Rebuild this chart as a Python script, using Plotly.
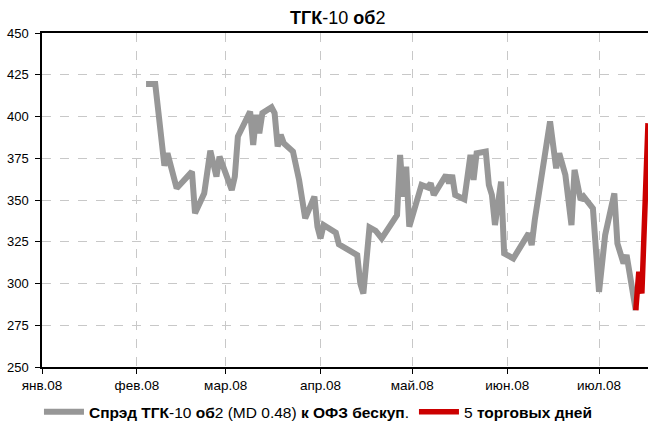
import plotly.graph_objects as go

dates = ["2008-02-04","2008-02-07","2008-02-10","2008-02-11","2008-02-14","2008-02-19","2008-02-20","2008-02-23","2008-02-25","2008-02-27","2008-02-28",
         "2008-03-03","2008-03-04","2008-03-05","2008-03-09","2008-03-10","2008-03-11","2008-03-12","2008-03-13","2008-03-16","2008-03-17","2008-03-18","2008-03-19","2008-03-20","2008-03-23","2008-03-25","2008-03-27","2008-03-30","2008-03-31",
         "2008-04-01","2008-04-02","2008-04-06","2008-04-07","2008-04-12","2008-04-13","2008-04-14","2008-04-15","2008-04-17","2008-04-19","2008-04-21","2008-04-26","2008-04-27","2008-04-28","2008-04-29","2008-04-30",
         "2008-05-04","2008-05-06","2008-05-07","2008-05-08","2008-05-11","2008-05-12","2008-05-13","2008-05-14","2008-05-15","2008-05-18","2008-05-20","2008-05-21","2008-05-22","2008-05-25","2008-05-26","2008-05-27","2008-05-28","2008-05-30","2008-05-31",
         "2008-06-03","2008-06-08","2008-06-09","2008-06-10","2008-06-15","2008-06-17","2008-06-18","2008-06-20","2008-06-22","2008-06-23","2008-06-25","2008-06-26","2008-06-29",
         "2008-07-01","2008-07-03","2008-07-06","2008-07-07","2008-07-09","2008-07-10","2008-07-13"]
spread = [419.5, 419.5, 370.5, 378, 357, 367, 342, 354, 379.5, 364, 376,
          356, 364, 388, 403, 383, 401, 390, 402, 405.5, 402, 382, 389, 384, 379, 362, 339, 352, 334,
          327, 335, 330.5, 323.5, 318, 317, 300, 294, 333.6, 331.6, 327, 341, 377, 352, 370, 334,
          359, 357.6, 360, 353, 362, 365, 360, 365, 353, 350.4, 377, 362, 378, 379, 359, 353, 335, 361, 318,
          315, 330, 323, 338, 397, 369, 378, 365, 335, 368, 350, 352, 345,
          295, 329, 354, 324, 312, 317, 284]

last_dates = ["2008-07-13", "2008-07-14", "2008-07-15", "2008-07-17"]
last_values = [284, 307, 294, 396]

month_ticks = ["2008-01-01","2008-02-01","2008-03-01","2008-04-01","2008-05-01","2008-06-01","2008-07-01"]
month_labels = ["янв.08","фев.08","мар.08","апр.08","май.08","июн.08","июл.08"]

FONT = "Liberation Sans Narrow, Arial Narrow, Liberation Sans, Arial, sans-serif"

fig = go.Figure()
fig.add_trace(go.Scatter(
    x=dates, y=spread, mode="lines",
    line=dict(color="#979797", width=6),
    name="<b>Спрэд ТГК</b>-10 <b>об</b>2 (MD 0.48) <b>к ОФЗ бескуп</b>.",
))
fig.add_trace(go.Scatter(
    x=last_dates, y=last_values, mode="lines",
    line=dict(color="#cc0000", width=5.5),
    name="5 <b>торговых дней</b>",
))

fig.update_layout(
    width=648, height=421,
    margin=dict(l=42, r=0, t=33, b=54, autoexpand=False),
    paper_bgcolor="white", plot_bgcolor="white",
    font=dict(family=FONT, size=14, color="black"),
    title=dict(text="<b>ТГК</b>-10 <b>об</b>2", x=0.488, xref="paper", xanchor="center",
               y=1 - 18/421, yref="container", yanchor="middle",
               font=dict(family=FONT, size=18, color="black")),
    showlegend=True,
    legend=dict(orientation="h", x=-0.005, xanchor="left", y=-0.135, yanchor="middle",
                font=dict(family=FONT, size=15.5, color="black"),
                bgcolor="rgba(0,0,0,0)", itemwidth=40, tracegroupgap=0),
)
fig.update_xaxes(
    type="date", range=["2008-01-01", "2008-07-17"],
    tickvals=month_ticks, ticktext=month_labels,
    ticks="outside", ticklen=5, tickcolor="black",
    showline=True, linecolor="black", linewidth=1.5, mirror=True,
    showgrid=True, gridcolor="#c8c8c8", griddash="dash", gridwidth=1,
    tickfont=dict(family=FONT, size=13.5, color="black"),
    zeroline=False,
)
fig.update_yaxes(
    range=[250, 450], tickvals=[250, 275, 300, 325, 350, 375, 400, 425, 450],
    ticks="outside", ticklen=5, tickcolor="black",
    showline=True, linecolor="black", linewidth=1.5,
    showgrid=True, gridcolor="#c8c8c8", griddash="dash", gridwidth=1,
    tickfont=dict(family=FONT, size=13, color="black"),
    ticklabelstandoff=4,
    zeroline=False,
)

fig.write_html(
    "out.html",
    config={"displayModeBar": False},
    post_script="document.body.style.margin='0';document.body.style.overflow='hidden';",
)
